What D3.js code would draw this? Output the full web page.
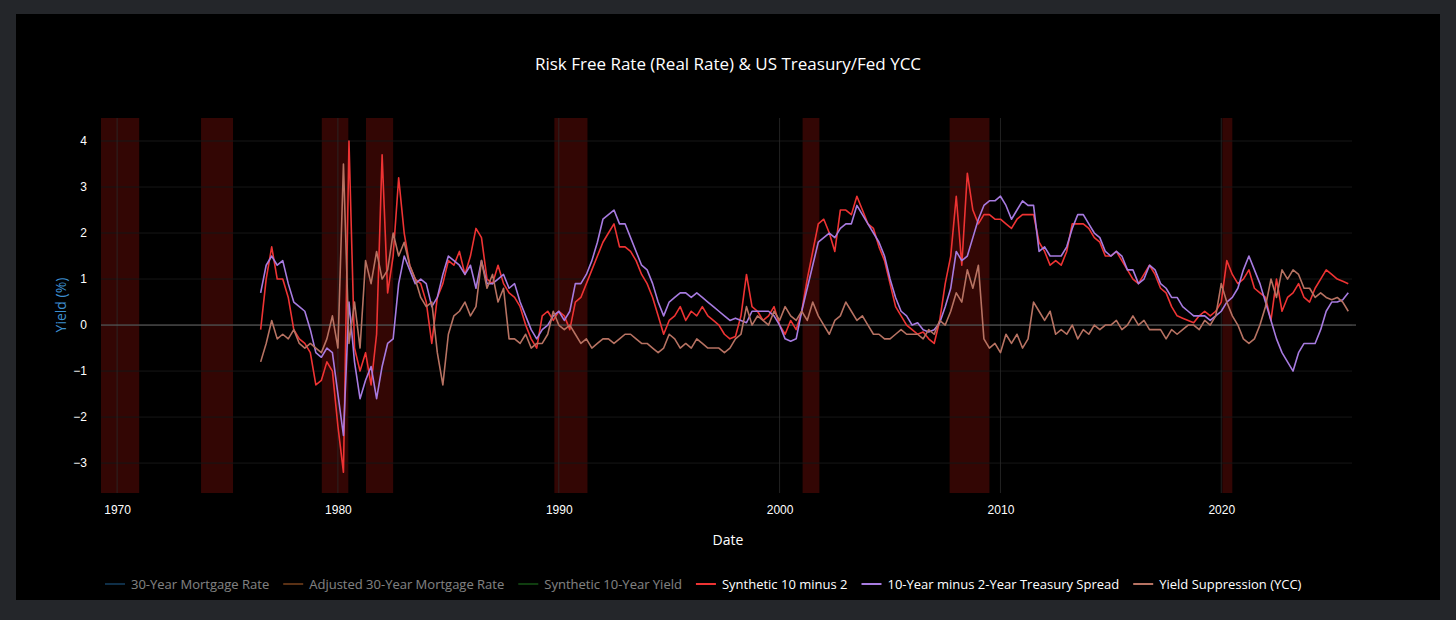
<!DOCTYPE html>
<html>
<head>
<meta charset="utf-8">
<script src="https://cdn.jsdelivr.net/npm/d3@7"></script>
<style>
  body { margin: 0; background: #24262a; }
  svg { display: block; font-family: "Open Sans", "DejaVu Sans", sans-serif; }
</style>
</head>
<body>
<div id="chart"></div>
<script>
// quarterly series, starting mid-1976
const startYear = 1976.5;

const spread = [0.7, 1.3,
  1.5, 1.3, 1.4, 0.9,  0.5, 0.4, 0.3, -0.1,  -0.6, -0.7, -0.5, -0.6,
  -1.5, -2.4, 0.5, -0.8,  -1.6, -1.2, -0.9, -1.6,  -0.9, -0.4, -0.3, 0.9,
  1.5, 1.2, 0.9, 1.0,  0.9, 0.4, 0.6, 1.1,  1.5, 1.4, 1.3, 1.1,
  1.3, 0.8, 1.4, 0.9,  0.9, 1.0, 1.1, 0.8,  0.9, 0.5, 0.2, -0.1,
  -0.3, -0.1, 0.0, 0.2,  0.3, 0.1, 0.3, 0.9,  0.9, 1.1, 1.4, 1.8,
  2.3, 2.4, 2.5, 2.2,  2.2, 1.9, 1.6, 1.3,  1.2, 0.9, 0.5, 0.2,
  0.5, 0.6, 0.7, 0.7,  0.6, 0.7, 0.6, 0.5,  0.4, 0.3, 0.2, 0.1,
  0.15, 0.1, 0.05, 0.3,  0.3, 0.3, 0.3, 0.2,  0.0, -0.3, -0.35, -0.3,
  0.3, 0.8, 1.3, 1.8,  1.9, 2.0, 1.9, 2.1,  2.2, 2.2, 2.6, 2.4,
  2.2, 2.0, 1.8, 1.5,  1.0, 0.6, 0.3, 0.2,  0.0, 0.05, -0.1, -0.15,
  -0.1, 0.05, 0.4, 0.8,  1.6, 1.4, 1.5, 1.9,  2.3, 2.6, 2.7, 2.7,
  2.8, 2.6, 2.3, 2.5,  2.7, 2.6, 2.6, 1.6,  1.7, 1.5, 1.5, 1.5,
  1.7, 2.1, 2.4, 2.4,  2.2, 2.0, 1.9, 1.6,  1.5, 1.6, 1.5, 1.2,
  1.2, 0.9, 1.0, 1.3,  1.2, 0.9, 0.8, 0.6,  0.6, 0.4, 0.3, 0.2,
  0.2, 0.2, 0.1, 0.2,  0.3, 0.5, 0.6, 0.8,  1.2, 1.5, 1.2, 0.9,
  0.5, 0.1, -0.3, -0.6,  -0.8, -1.0, -0.6, -0.4,  -0.4, -0.4, -0.1, 0.3,
  0.5, 0.5, 0.55, 0.7];

const synth = [-0.1, 1.0,
  1.7, 1.0, 1.0, 0.6,  -0.1, -0.3, -0.4, -0.6,  -1.3, -1.2, -0.8, -1.0,
  -2.2, -3.2, 4.0, -0.5,  -1.0, -0.6, -1.3, -0.2,  3.7, 0.7, 1.5, 3.2,
  2.0, 1.3, 1.0, 0.9,  0.5, -0.4, 0.6, 0.9,  1.4, 1.3, 1.6, 1.1,
  1.5, 2.1, 1.9, 1.0,  0.9, 1.3, 0.9, 0.7,  0.6, 0.4, 0.0, -0.3,
  -0.5, 0.2, 0.3, 0.1,  0.3, 0.2, -0.1, 0.5,  0.6, 0.9, 1.2, 1.5,
  1.8, 2.0, 2.2, 1.7,  1.7, 1.6, 1.4, 1.1,  0.9, 0.6, 0.2, -0.2,
  0.1, 0.2, 0.4, 0.1,  0.3, 0.2, 0.4, 0.2,  0.1, 0.0, -0.2, -0.3,
  -0.25, 0.2, 1.1, 0.4,  0.3, 0.1, 0.2, 0.4,  0.0, -0.2, 0.1, -0.1,
  0.3, 1.0, 1.6, 2.2,  2.3, 2.0, 1.6, 2.5,  2.5, 2.4, 2.8, 2.5,
  2.2, 2.1, 1.7, 1.4,  0.9, 0.4, 0.2, 0.0,  -0.1, -0.2, -0.15, -0.3,
  -0.4, 0.1, 0.9, 1.5,  2.8, 1.3, 3.3, 2.5,  2.2, 2.4, 2.4, 2.3,
  2.3, 2.2, 2.1, 2.3,  2.4, 2.4, 2.4, 1.8,  1.6, 1.3, 1.4, 1.3,
  1.6, 2.2, 2.2, 2.2,  2.1, 1.9, 1.8, 1.5,  1.5, 1.6, 1.4, 1.2,
  1.0, 0.9, 1.1, 1.3,  1.1, 0.8, 0.7, 0.4,  0.2, 0.15, 0.1, 0.05,
  0.2, 0.3, 0.2, 0.3,  0.5, 1.4, 1.1, 0.9,  1.0, 1.2, 0.8, 0.7,
  0.6, 0.1, 1.0, 0.3,  0.6, 0.7, 0.9, 0.6,  0.5, 0.8, 1.0, 1.2,
  1.1, 1.0, 0.95, 0.9];

const ycc = [-0.8, -0.4,
  0.1, -0.3, -0.2, -0.3,  -0.1, -0.4, -0.5, -0.4,  -0.5, -0.6, -0.3, 0.2,
  -0.5, 3.5, -0.4, 0.5,  -0.5, 1.4, 0.9, 1.6,  1.0, 1.2, 2.0, 1.5,
  1.8, 1.3, 1.0, 0.6,  0.4, 0.5, -0.6, -1.3,  -0.2, 0.2, 0.3, 0.5,
  0.2, 0.4, 1.4, 0.8,  1.1, 0.5, 0.8, -0.3,  -0.3, -0.4, -0.2, -0.5,
  -0.4, -0.4, -0.2, 0.3,  0.0, -0.1, 0.0, -0.2,  -0.4, -0.3, -0.5, -0.4,
  -0.3, -0.3, -0.4, -0.3,  -0.2, -0.2, -0.3, -0.4,  -0.4, -0.5, -0.6, -0.5,
  -0.2, -0.3, -0.5, -0.4,  -0.5, -0.3, -0.4, -0.5,  -0.5, -0.5, -0.6, -0.5,
  -0.3, -0.2, 0.4, 0.0,  0.2, 0.1, 0.0, 0.3,  0.1, 0.4, 0.2, 0.1,
  0.3, 0.1, 0.5, 0.2,  0.0, -0.2, 0.1, 0.2,  0.5, 0.3, 0.1, 0.2,
  0.0, -0.2, -0.2, -0.3,  -0.3, -0.2, -0.1, -0.2,  -0.2, -0.2, -0.3, -0.1,
  -0.2, 0.1, 0.0, 0.3,  0.7, 0.5, 1.2, 0.8,  1.3, -0.3, -0.5, -0.4,
  -0.6, -0.2, -0.4, -0.2,  -0.5, -0.3, 0.5, 0.3,  0.1, 0.3, -0.2, -0.1,
  -0.2, 0.0, -0.3, -0.1,  -0.2, 0.0, -0.1, 0.0,  0.0, 0.1, -0.1, 0.0,
  0.2, 0.0, 0.1, -0.1,  -0.1, -0.1, -0.3, -0.1,  -0.2, -0.1, 0.0, 0.0,
  -0.1, 0.1, 0.0, 0.2,  0.9, 0.5, 0.2, 0.0,  -0.3, -0.4, -0.3, 0.0,
  0.4, 1.0, 0.6, 1.2,  1.0, 1.2, 1.1, 0.8,  0.8, 0.6, 0.7, 0.6,
  0.55, 0.6, 0.5, 0.3];

// recession periods (decimal years, as drawn)
const recessions = [[1969.27, 1971.0], [1973.8, 1975.25], [1979.27, 1980.47], [1981.27, 1982.5],
  [1989.8, 1991.3], [2001.04, 2001.8], [2007.7, 2009.5], [2020.05, 2020.5]];

const yTicks = [-3, -2, -1, 0, 1, 2, 3, 4];

const legendItems = [
  { name: "30-Year Mortgage Rate", color: "#1f5f8f", on: false },
  { name: "Adjusted 30-Year Mortgage Rate", color: "#b4622a", on: false },
  { name: "Synthetic 10-Year Yield", color: "#1f7a1f", on: false },
  { name: "Synthetic 10 minus 2", color: "#ee3333", on: true },
  { name: "10-Year minus 2-Year Treasury Spread", color: "#a77be0", on: true },
  { name: "Yield Suppression (YCC)", color: "#b77262", on: true }
];

const W = 1456, H = 620;
const toDate = y => {
  const yr = Math.floor(y);
  const start = new Date(yr, 0, 1), end = new Date(yr + 1, 0, 1);
  return new Date(+start + (y - yr) * (end - start));
};

const svg = d3.select("#chart").append("svg").attr("width", W).attr("height", H);

// black panel
svg.append("rect").attr("x", 16).attr("y", 14).attr("width", 1424).attr("height", 586).attr("fill", "#000");

const x = d3.scaleTime().domain([toDate(1969.27), toDate(2026.1)]).range([101, 1356]);
const y = d3.scaleLinear().domain([-3.65, 4.5]).range([493, 118]);

// recession bands
svg.append("g").selectAll("rect").data(recessions).join("rect")
  .attr("x", d => x(toDate(d[0])))
  .attr("width", d => x(toDate(d[1])) - x(toDate(d[0])))
  .attr("y", 118).attr("height", 375)
  .attr("fill", "#330604");

// grid
svg.append("g").selectAll("line").data(yTicks).join("line")
  .attr("x1", 101).attr("x2", 1352).attr("y1", d => y(d)).attr("y2", d => y(d))
  .attr("stroke", "#161616");
const xTicks = [1970, 1980, 1990, 2000, 2010, 2020].map(v => new Date(v, 0, 1));
svg.append("g").selectAll("line").data(xTicks).join("line")
  .attr("x1", d => x(d)).attr("x2", d => x(d)).attr("y1", 118).attr("y2", 493)
  .attr("stroke", "#2a2a2a").attr("stroke-opacity", 0.8);
svg.append("line").attr("x1", 101).attr("x2", 1356).attr("y1", y(0)).attr("y2", y(0))
  .attr("stroke", "#666").attr("stroke-width", 1);

// axes
const yAxis = svg.append("g").attr("transform", "translate(101,0)")
  .call(d3.axisLeft(y).tickValues(yTicks).tickSize(0).tickPadding(14).tickFormat(d => d < 0 ? "\u2212" + (-d) : d));
const xAxis = svg.append("g").attr("transform", "translate(0,493)")
  .call(d3.axisBottom(x).tickValues(xTicks).tickSize(0).tickPadding(12).tickFormat(d3.timeFormat("%Y")));
[yAxis, xAxis].forEach(a => {
  a.select(".domain").remove();
  a.selectAll("text").attr("fill", "#fff").style("font-size", "12px");
});

// lines
const line = vals => d3.line()
  .x((d, i) => x(toDate(startYear + i * 0.25)))
  .y(d => y(d))(vals);
[[synth, "#ee3333"], [spread, "#a77be0"], [ycc, "#b77262"]].forEach(([vals, c]) => {
  svg.append("path").attr("d", line(vals)).attr("fill", "none")
    .attr("stroke", c).attr("stroke-width", 1.6).attr("stroke-linejoin", "round");
});

// titles
svg.append("text").attr("x", 728).attr("y", 70).attr("text-anchor", "middle")
  .attr("fill", "#fff").style("font-size", "17px").text("Risk Free Rate (Real Rate) & US Treasury/Fed YCC");
svg.append("text").attr("transform", "translate(66,305) rotate(-90)").attr("text-anchor", "middle")
  .attr("fill", "#3d8fd0").style("font-size", "14px").text("Yield (%)");
svg.append("text").attr("x", 728).attr("y", 545).attr("text-anchor", "middle")
  .attr("fill", "#fff").style("font-size", "14px").text("Date");

// legend
const lg = svg.append("g").attr("transform", "translate(105,584)");
let lx = 0;
legendItems.forEach(it => {
  const g = lg.append("g").attr("transform", `translate(${lx},0)`).attr("opacity", it.on ? 1 : 0.5);
  g.append("line").attr("x1", 0).attr("x2", 20).attr("stroke", it.color).attr("stroke-width", 2);
  const t = g.append("text").attr("x", 26).attr("y", 4.5).attr("fill", "#fff")
    .style("font-size", "13px").text(it.name);
  lx += 26 + t.node().getComputedTextLength() + 14;
});
</script>
</body>
</html>
